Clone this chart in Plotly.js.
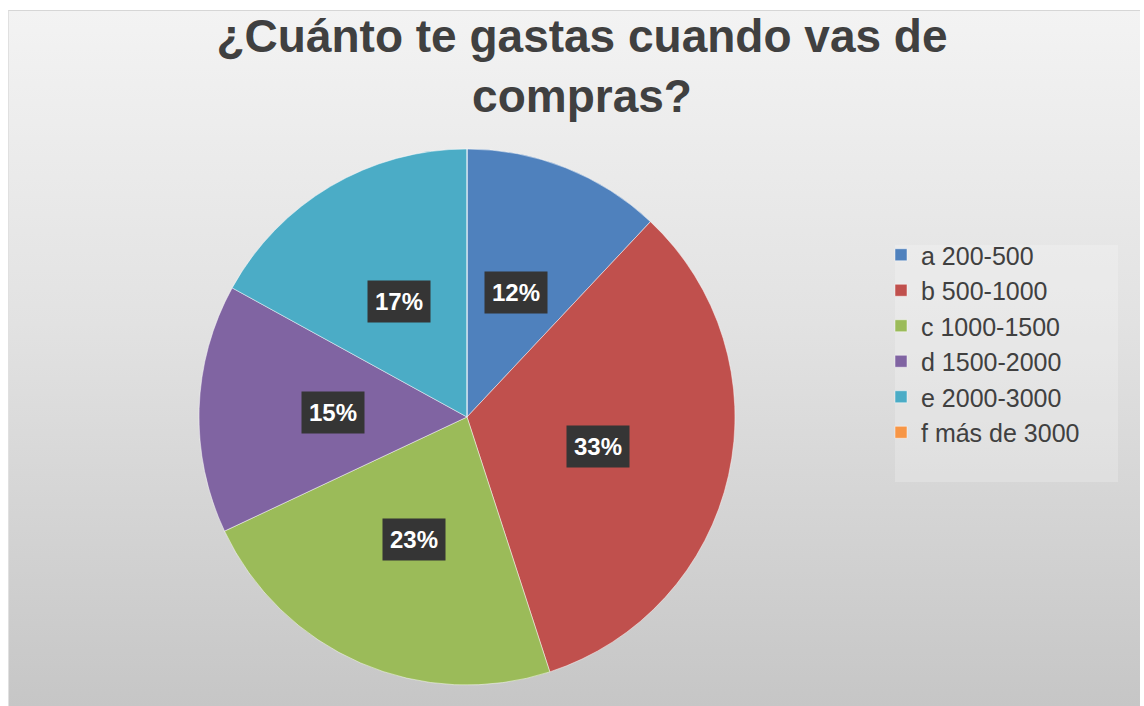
<!DOCTYPE html>
<html>
<head>
<meta charset="utf-8">
<script src="https://cdn.plot.ly/plotly-3.0.1.min.js"></script>
<style>
  html, body { margin: 0; padding: 0; background: #ffffff; }
  #frame {
    position: absolute; left: 8px; top: 10px; width: 1132px; height: 696px;
    background: linear-gradient(to bottom, #f3f3f3 0%, #e2e2e2 45%, #c6c6c6 100%);
    border-top: 1px solid #d6d6d6; border-left: 1px solid #e0e0e0;
    box-sizing: border-box;
  }
  #chart { position: absolute; left: 0; top: 0; width: 1144px; height: 706px; }
</style>
</head>
<body>
<div id="frame"></div>
<div id="chart"></div>
<script>
// ---- data ----
const categories = ['a 200-500', 'b 500-1000', 'c 1000-1500', 'd 1500-2000', 'e 2000-3000', 'f más de 3000'];
const percentages = [12, 33, 23, 15, 17, 0];
const sliceColors = ['#4F81BD', '#C0504D', '#9BBB59', '#8064A2', '#4BACC6', '#F79646'];
const chartTitle = '¿Cuánto te gastas cuando vas de<br>compras?';

// ---- layout geometry ----
const W = 1144, H = 706;
const pieDomainX = [199 / W, 735 / W];
const pieDomainY = [1 - 685 / H, 1 - 149 / H];

const trace = {
  type: 'pie',
  labels: categories,
  values: percentages,
  sort: false,
  direction: 'clockwise',
  rotation: 0,
  textinfo: 'none',
  hoverinfo: 'label+percent',
  marker: { colors: sliceColors, line: { color: 'rgba(255,255,255,0.6)', width: 0.8 } },
  domain: { x: pieDomainX, y: pieDomainY },
  showlegend: true
};

// label annotations at half radius along each slice's mid-angle
const total = percentages.reduce((s, v) => s + v, 0);
const rPx = Math.min((pieDomainX[1] - pieDomainX[0]) * W, (pieDomainY[1] - pieDomainY[0]) * H) / 2;
const cx = (pieDomainX[0] + pieDomainX[1]) / 2;
const cy = (pieDomainY[0] + pieDomainY[1]) / 2;
const annotations = [];
let cum = 0;
percentages.forEach((v, i) => {
  const mid = (cum + v / 2) / total * 2 * Math.PI;
  cum += v;
  if (v <= 0) return;
  annotations.push({
    xref: 'paper', yref: 'paper',
    x: cx + 0.5 * rPx * Math.sin(mid) / W,
    y: cy + 0.5 * rPx * Math.cos(mid) / H,
    xanchor: 'center', yanchor: 'middle',
    text: '<b>' + Math.round(v / total * 100) + '%</b>',
    showarrow: false,
    font: { family: 'Liberation Sans, Arial, sans-serif', size: 24, color: '#ffffff' },
    bgcolor: '#353535',
    borderpad: 7
  });
});

const layout = {
  width: W, height: H,
  margin: { l: 0, r: 0, t: 0, b: 0 },
  paper_bgcolor: 'rgba(0,0,0,0)',
  plot_bgcolor: 'rgba(0,0,0,0)',
  title: {
    text: '<b>' + chartTitle + '</b>',
    x: 582 / W, xanchor: 'center',
    y: 1 - 52 / H, yanchor: 'top',
    font: { family: 'Liberation Sans, Arial, sans-serif', size: 46, color: '#404040' }
  },
  legend: {
    x: 881 / W, xanchor: 'left',
    y: 1 - 232 / H, yanchor: 'top',
    bgcolor: 'rgba(0,0,0,0)',
    font: { family: 'Liberation Sans, Arial, sans-serif', size: 25, color: '#404040' },
    traceorder: 'normal'
  },
  shapes: [{
    type: 'rect', xref: 'paper', yref: 'paper',
    x0: 895 / W, x1: 1118 / W, y0: 1 - 482 / H, y1: 1 - 245 / H,
    fillcolor: 'rgba(255,255,255,0.22)', line: { width: 0 }, layer: 'below'
  }],
  annotations: annotations
};

Plotly.newPlot('chart', [trace], layout, { displayModeBar: false, staticPlot: true });
</script>
</body>
</html>
